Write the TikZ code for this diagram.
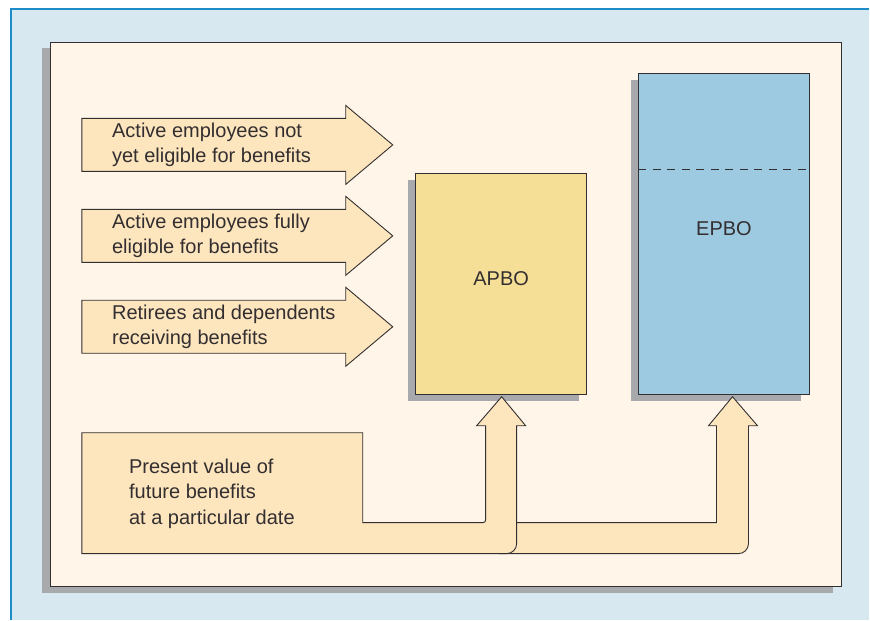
\documentclass[tikz,border=0pt]{standalone}
\usepackage{fontspec}
\setmainfont{Liberation Sans}
\usepackage{xcolor}
\usepackage{tikz}
\usetikzlibrary{shadows}
\definecolor{bgBlue}{RGB}{215,232,241}
\definecolor{lineBlue}{RGB}{30,140,200}
\definecolor{panelCream}{RGB}{255,246,233}
\definecolor{shadowGrey}{RGB}{167,169,172}
\definecolor{arrowPeach}{RGB}{253,229,190}
\definecolor{apboYellow}{RGB}{245,223,150}
\definecolor{epboBlue}{RGB}{157,201,225}
\definecolor{edgeDark}{RGB}{51,47,48}
\tikzset{
  outl/.style={draw=edgeDark, line width=0.9pt, line join=miter},
  shad/.style={drop shadow={shadow xshift=-8pt, shadow yshift=-6pt,
               fill=shadowGrey, opacity=1}},
  oblig/.style={outl, shad, rectangle, inner sep=0pt, minimum width=171pt},
  lbl/.style={font=\fontsize{20}{25.5}\selectfont, align=left, text=edgeDark, inner sep=0pt},
}

\begin{document}
\begin{tikzpicture}[x=1pt, y=-1pt]
% frame and panel
\fill[white] (0,0) rectangle (870,620);
\fill[bgBlue] (11,9) rectangle (870,620);
\draw[lineBlue, line width=1.2pt] (11,620) -- (11,9) -- (870,9);
\draw[outl, shad, fill=panelCream] (50,42) rectangle (842,587);

% obligation boxes
\node[oblig, fill=apboYellow, minimum height=221pt] (apbo) at (501.5,284.5) {};
\node[oblig, fill=epboBlue, minimum height=321pt] (epbo) at (724.5,234.5) {};
\draw[edgeDark, line width=0.9pt, dash pattern=on 8pt off 6.5pt]
  (epbo.west |- 0,170) -- (epbo.east |- 0,170);
\node[lbl] (apbolbl) at ([yshift=6pt]apbo.center) {APBO};
\node[lbl] (epbolbl) at ([yshift=6pt]epbo.center) {EPBO};

% employee groups
\foreach \cy/\txt/\nm in {145/{Active employees not\\yet eligible for benefits}/notyet,
                         236/{Active employees fully\\eligible for benefits}/fully,
                         327/{Retirees and dependents\\receiving benefits}/retired}{
  \draw[outl, fill=arrowPeach] (82,\cy-26.5) -- (346,\cy-26.5) -- (346,\cy-39.5)
    -- (393,\cy) -- (346,\cy+39.5) -- (346,\cy+26.5) -- (82,\cy+26.5) -- cycle;
  \node[lbl, anchor=west] (\nm) at (112,\cy) {\txt};
}

% present value band
\draw[outl, fill=arrowPeach] (500,523) -- (717,523) -- (717,426) -- (709,426)
  -- (733,397) -- (758,426) -- (749,426) -- (749,544)
  .. controls (749,549.5) and (744.5,554) .. (739,554) -- (500,554) -- cycle;
\draw[outl, fill=arrowPeach] (82,433) -- (363,433) -- (363,523) -- (483,523)
  .. controls (485,523) and (486,522) .. (486,520) -- (486,426) -- (477,426)
  -- (502,397) -- (526,426) -- (517,426) -- (517,544)
  .. controls (517,549.5) and (512.5,554) .. (507,554) -- (82,554) -- cycle;
\node[lbl, anchor=west] (pv) at (129,494) {Present value of\\future benefits\\at a particular date};
\end{tikzpicture}
\end{document}
